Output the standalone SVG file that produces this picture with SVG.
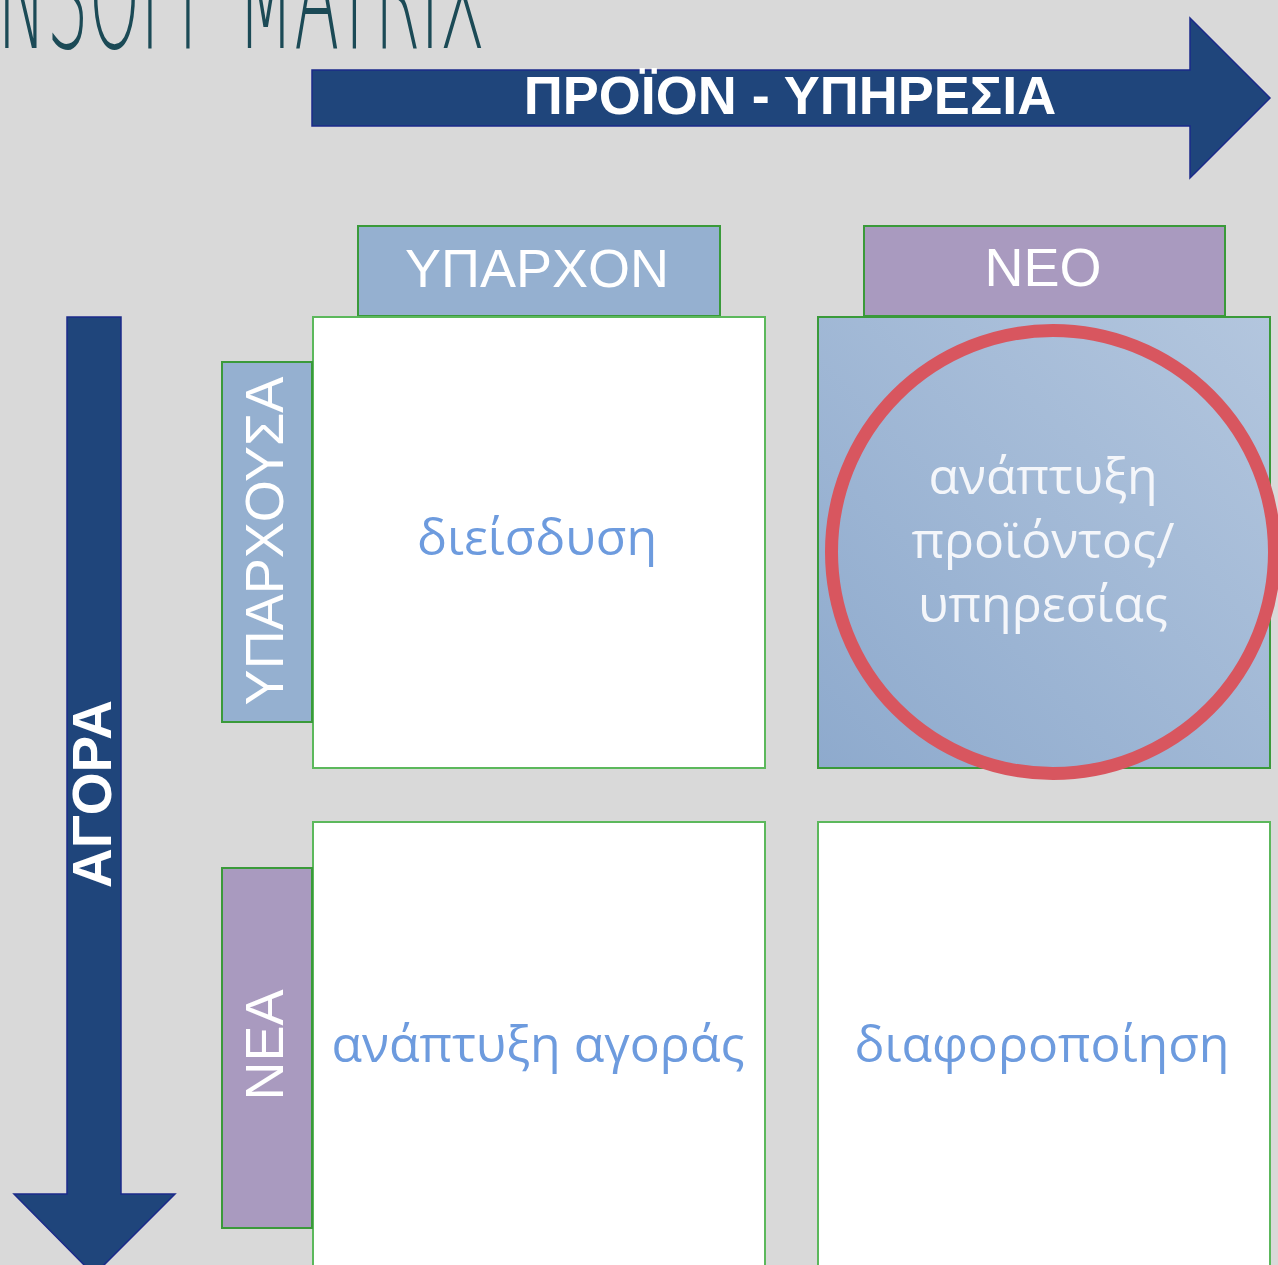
<svg xmlns="http://www.w3.org/2000/svg" width="1278" height="1265" viewBox="0 0 1278 1265">
<defs>
<style>
.hdr{font-family:"Liberation Sans",Arial,sans-serif;font-size:54px;fill:#ffffff;text-anchor:middle}
.bold{font-family:"Liberation Sans",Arial,sans-serif;font-weight:bold;fill:#ffffff;text-anchor:middle}
.cell{font-family:"Open Sans","Noto Sans",sans-serif;font-size:50px;fill:#6d9bde;text-anchor:middle}
.ctext{font-family:"Open Sans","Noto Sans",sans-serif;font-size:50px;fill:#f4f6fa;text-anchor:middle}
.box{stroke:#3a9a3a;stroke-width:2}
.blue{fill:#95b0d0}
.purple{fill:#a99abf}
.white{fill:#ffffff;stroke:#5cb85c;stroke-width:2}
.arrow{fill:#1f457b;stroke:#1b2a8a;stroke-width:1.5}
</style>
<linearGradient id="g1" x1="0" y1="1" x2="1" y2="0">
<stop offset="0" stop-color="#8eaacd"/>
<stop offset="1" stop-color="#b3c6de"/>
</linearGradient>
</defs>
<rect x="0" y="0" width="1278" height="1265" fill="#d9d9d9"/>
<g id="title">
<text x="-48" y="48" textLength="533" lengthAdjust="spacingAndGlyphs" font-family="DejaVu Sans, sans-serif" font-weight="200" font-size="150" fill="#1b4a56">ANSOFF MATRIX</text>
</g>
<g id="connectors">
<g id="arrow-product">
<polygon class="arrow" points="312,70 1190,70 1190,18 1270,98 1190,178 1190,126 312,126"/>
<text class="bold" x="790" y="114" font-size="54">ΠΡΟΪΟΝ - ΥΠΗΡΕΣΙΑ</text>
</g>
<g id="arrow-market">
<polygon class="arrow" points="67,317 121,317 121,1194 175,1194 94,1275 14,1194 67,1194"/>
<text class="bold" transform="translate(111,794) rotate(-90)" font-size="55">ΑΓΟΡΑ</text>
</g>
</g>
<g id="hdr-existing-product">
<rect class="box blue" x="358" y="226" width="362" height="90"/>
<text class="hdr" x="537" y="287">ΥΠΑΡΧΟΝ</text>
</g>
<g id="hdr-new-product">
<rect class="box purple" x="864" y="226" width="361" height="90"/>
<text class="hdr" x="1043" y="286">ΝΕΟ</text>
</g>
<g id="cell-penetration">
<rect class="white" x="313" y="317" width="452" height="451"/>
<text class="cell" x="537" y="555">διείσδυση</text>
</g>
<g id="cell-product-dev">
<rect class="box" fill="url(#g1)" x="818" y="317" width="452" height="451"/>
<circle cx="1053" cy="552" r="221.5" fill="none" stroke="#d8565f" stroke-width="13"/>
<text class="ctext" x="1043" y="494">ανάπτυξη</text>
<text class="ctext" x="1043" y="558">προϊόντος/</text>
<text class="ctext" x="1043" y="622">υπηρεσίας</text>
</g>
<g id="cell-market-dev">
<rect class="white" x="313" y="822" width="452" height="460"/>
<text class="cell" x="538" y="1062">ανάπτυξη αγοράς</text>
</g>
<g id="cell-diversification">
<rect class="white" x="818" y="822" width="452" height="460"/>
<text class="cell" x="1042" y="1062">διαφοροποίηση</text>
</g>
<g id="hdr-existing-market">
<rect class="box blue" x="222" y="362" width="90" height="360"/>
<text class="hdr" transform="translate(283,541) rotate(-90)">ΥΠΑΡΧΟΥΣΑ</text>
</g>
<g id="hdr-new-market">
<rect class="box purple" x="222" y="868" width="90" height="360"/>
<text class="hdr" transform="translate(283,1045) rotate(-90)" font-size="52">ΝΕΑ</text>
</g>
</svg>
